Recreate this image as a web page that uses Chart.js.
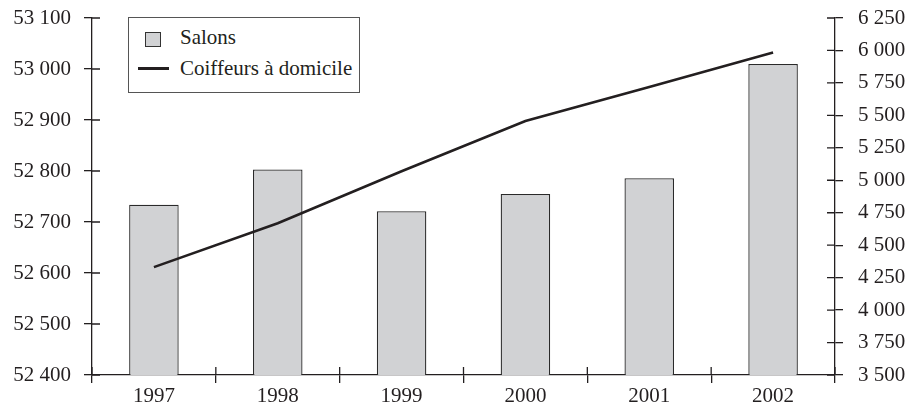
<!DOCTYPE html>
<html>
<head>
<meta charset="utf-8">
<script src="https://cdn.jsdelivr.net/npm/chart.js@4"></script>
<style>
  html, body { margin: 0; padding: 0; background: #fff; }
  #wrap { position: relative; width: 908px; height: 404px; }
  #legend { position: absolute; left: 128px; top: 17px; width: 232px; height: 76px;
            border: 1px solid #555; box-sizing: border-box; background: #fff;
            font-family: "Liberation Serif", serif; font-size: 21px; color: #231f20; }
  .sq { position: absolute; left: 16px; top: 14px; width: 14px; height: 13px; background: #d1d2d4; border: 1.3px solid #333; }
  .ln { position: absolute; left: 9px; top: 49px; width: 31px; height: 3px; background: #231f20; }
  .tx { position: absolute; left: 51px; line-height: 21px; white-space: nowrap; }
</style>
</head>
<body>
<div id="wrap">
  <canvas id="canvas" width="908" height="404"></canvas>
  <div id="legend">
    <div class="sq"></div><span class="tx" style="top:9px">Salons</span>
    <div class="ln"></div><span class="tx" style="top:40px">Coiffeurs à domicile</span>
  </div>
</div>
<script>
// données
const annees = ['1997', '1998', '1999', '2000', '2001', '2002'];
const salons = [52734, 52803, 52721, 52755, 52786, 53010];
const coiffeursDomicile = [4331, 4669, 5070, 5457, 5719, 5984];

const noir = '#231f20';
const police = { family: 'Liberation Serif', size: 21, lineHeight: 1 };

function espaceMilliers(v) {
    return String(v).replace(/\B(?=(\d{3})+(?!\d))/g, ' ');
}

// petits traits vers l'intérieur (les graduations traversent l'axe)
const traitsInterieurs = {
    id: 'traitsInterieurs',
    afterDraw(chart) {
        const c = chart.ctx;
        const L = 8;
        c.save();
        c.strokeStyle = noir;
        c.lineWidth = 1.3;
        c.beginPath();
        const yl = chart.scales.y;
        yl.ticks.forEach((t, i) => {
            const y = yl.getPixelForTick(i);
            c.moveTo(yl.right, y); c.lineTo(yl.right + L, y);
        });
        const yr = chart.scales.y2;
        yr.ticks.forEach((t, i) => {
            const y = yr.getPixelForTick(i);
            c.moveTo(yr.left, y); c.lineTo(yr.left - L, y);
        });
        const x = chart.scales.x;
        for (let i = 0; i <= annees.length; i++) {
            const px = x.getPixelForValue(i - 0.5);
            c.moveTo(px, x.top); c.lineTo(px, x.top - L);
        }
        c.stroke();
        c.restore();
    }
};

// marges verticales fixes pour les axes y
function fixeY(largeur) {
    return function (s) {
        s.width = largeur;
        s.paddingTop = 18;
        s.paddingBottom = 0;
    };
}

var ctx = document.getElementById('canvas').getContext('2d');
var chart = new Chart(ctx, {
    data: {
        labels: annees,
        datasets: [{
            type: 'line',
            label: 'Coiffeurs à domicile',
            data: coiffeursDomicile,
            yAxisID: 'y2',
            borderColor: noir,
            borderWidth: 2.6,
            pointRadius: 0,
            tension: 0,
            order: 0
        }, {
            type: 'bar',
            label: 'Salons',
            data: salons,
            yAxisID: 'y',
            backgroundColor: '#d1d2d4',
            borderColor: '#2a2a2a',
            borderWidth: 1.3,
            borderSkipped: 'bottom',
            categoryPercentage: 1,
            barPercentage: 0.4,
            order: 1
        }]
    },
    options: {
        responsive: false,
        animation: false,
        layout: { padding: 0 },
        plugins: { legend: { display: false }, tooltip: { enabled: false } },
        scales: {
            x: {
                offset: true,
                grid: { offset: true, drawOnChartArea: false, tickLength: 8, color: noir, lineWidth: 1.3 },
                border: { color: noir, width: 1.3 },
                ticks: { font: police, color: noir, padding: 3 },
                afterFit(s) { s.height = 29; s.paddingLeft = 0; s.paddingRight = 0; }
            },
            y: {
                position: 'left',
                min: 52400, max: 53100,
                grid: { drawOnChartArea: false, tickLength: 8, color: noir, lineWidth: 1.3 },
                border: { color: noir, width: 1.3 },
                ticks: { stepSize: 100, font: police, color: noir, padding: 13, callback: espaceMilliers },
                afterFit: fixeY(92)
            },
            y2: {
                position: 'right',
                min: 3500, max: 6250,
                grid: { drawOnChartArea: false, tickLength: 8, color: noir, lineWidth: 1.3 },
                border: { color: noir, width: 1.3 },
                ticks: { stepSize: 250, font: police, color: noir, padding: 15, callback: espaceMilliers },
                afterFit: fixeY(73)
            }
        }
    },
    plugins: [traitsInterieurs]
});
</script>
</body>
</html>
